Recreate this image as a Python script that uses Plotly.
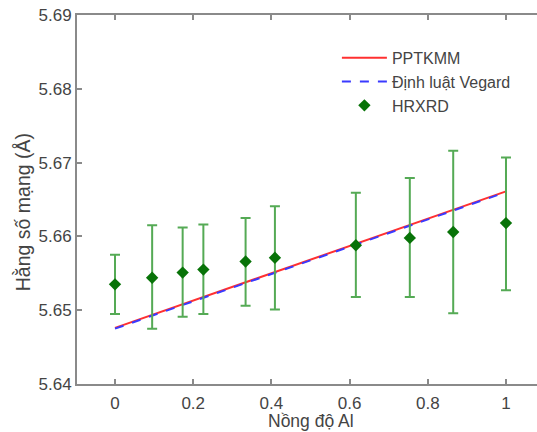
import plotly.graph_objects as go

# Data
al_conc = [0, 0.095, 0.173, 0.226, 0.334, 0.409, 0.616, 0.754, 0.865, 1.0]
hrxrd = [5.6535, 5.6544, 5.6551, 5.6555, 5.6566, 5.6571, 5.6588, 5.6598, 5.6606, 5.6618]
err_plus = [0.0040, 0.0071, 0.0061, 0.0061, 0.0059, 0.0070, 0.0071, 0.0081, 0.0110, 0.0089]
err_minus = [0.0040, 0.0069, 0.0060, 0.0060, 0.0060, 0.0070, 0.0070, 0.0080, 0.0110, 0.0091]

line_x = [0, 1]
pptkmm = [5.6476, 5.6661]
vegard = [5.6475, 5.6660]

x_ticks = [0, 0.2, 0.4, 0.6, 0.8, 1]
x_tick_labels = ["0", "0.2", "0.4", "0.6", "0.8", "1"]
y_ticks = [5.64, 5.65, 5.66, 5.67, 5.68, 5.69]
y_tick_labels = ["5.64", "5.65", "5.66", "5.67", "5.68", "5.69"]

FONT = "Arial, Liberation Sans, sans-serif"
TXT = "#444444"
AX = "#8a8a8a"

fig = go.Figure()
fig.add_trace(go.Scatter(x=line_x, y=pptkmm, mode="lines", name="PPTKMM",
                         line=dict(color="#ff3030", width=2)))
fig.add_trace(go.Scatter(x=line_x, y=vegard, mode="lines", name="Định luật Vegard",
                         line=dict(color="#3a3aff", width=2, dash="dash")))
fig.add_trace(go.Scatter(x=al_conc, y=hrxrd, mode="markers", name="HRXRD",
                         marker=dict(symbol="diamond", size=9.5, color="#087308"),
                         error_y=dict(type="data", symmetric=False, array=err_plus,
                                      arrayminus=err_minus, color="#55aa55",
                                      thickness=2, width=5)))

fig.update_layout(
    width=537, height=432,
    margin=dict(l=77, r=0, t=15, b=48),
    paper_bgcolor="white", plot_bgcolor="white",
    font=dict(family=FONT, size=17, color=TXT),
    showlegend=True,
    legend=dict(x=0.565, y=0.93, xanchor="left", yanchor="top",
                bgcolor="rgba(0,0,0,0)", font=dict(size=16, color=TXT),
                tracegroupgap=0, itemwidth=45),
    xaxis=dict(range=[-0.0972, 1.0793], tickvals=x_ticks, ticktext=x_tick_labels,
               ticks="inside", ticklen=5, tickcolor=AX, tickwidth=1.5,
               showline=True, linecolor=AX, linewidth=2, mirror="ticks",
               showgrid=False, zeroline=False, ticklabelstandoff=3,
               tickfont=dict(size=17, color=TXT)),
    yaxis=dict(range=[5.64, 5.69], tickvals=y_ticks, ticktext=y_tick_labels,
               ticks="inside", ticklen=5, tickcolor=AX, tickwidth=1.5,
               showline=True, linecolor=AX, linewidth=2, mirror=False,
               showgrid=False, zeroline=False, tickfont=dict(size=17, color=TXT)),
    annotations=[
        dict(x=0.5, xref="x", y=-0.130, yref="paper", text="Nồng độ Al",
             showarrow=False, xanchor="center", yanchor="bottom", borderpad=0,
             font=dict(size=17.5, color=TXT)),
        dict(x=-0.117, xref="paper", y=0.466, yref="paper", text="Hằng số mạng (Å)",
             showarrow=False, xanchor="center", yanchor="middle", textangle=-90,
             font=dict(size=19.5, color=TXT)),
    ],
)

fig.write_html("out.html")
